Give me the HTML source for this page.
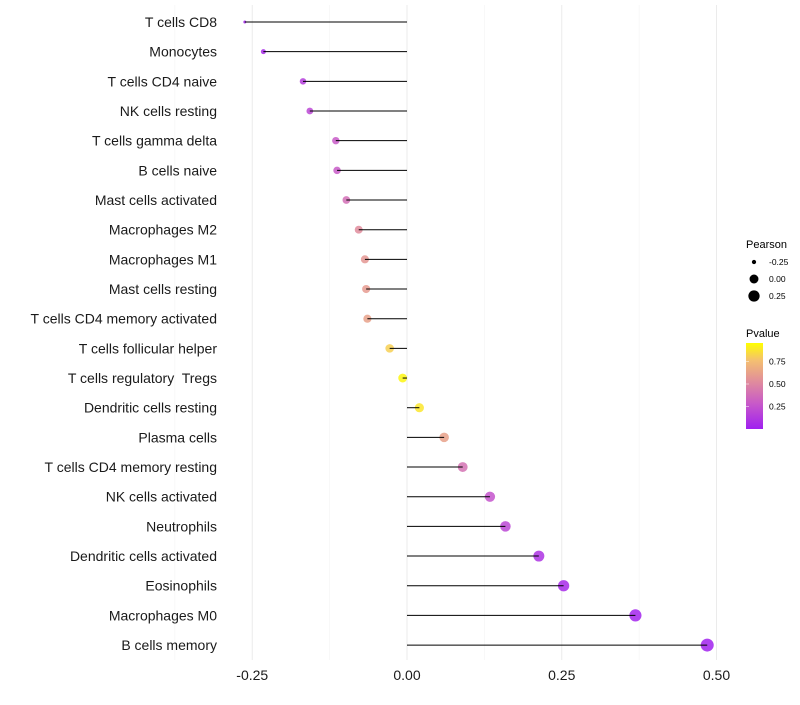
<!DOCTYPE html>
<html><head><meta charset="utf-8"><style>
body{margin:0;background:#fff;font-family:"Liberation Sans",sans-serif}
</style></head><body>
<svg id="chart" width="800" height="700" xmlns="http://www.w3.org/2000/svg" font-family="Liberation Sans, sans-serif">
<g id="grid"></g><g id="dots"></g><g id="marks"></g><g id="ylabels"></g><g id="xlabels"></g>
<g id="legend">
<text x="746" y="248" font-size="11">Pearson</text>
<g id="sizeleg"></g>
<text x="746" y="337" font-size="11">Pvalue</text>
<defs><linearGradient id="pg" x1="0" y1="1" x2="0" y2="0">
<stop offset="0" stop-color="#a020f0"/><stop offset="0.3" stop-color="#c85ac8"/><stop offset="0.55" stop-color="#e08c9c"/><stop offset="0.8" stop-color="#f4c070"/><stop offset="1" stop-color="#ffff00"/></linearGradient></defs>
<rect x="746" y="343" width="17" height="86" fill="url(#pg)"/>
<g id="cbticks"></g>
</g>
</svg>
<script>
const categories=["T cells CD8","Monocytes","T cells CD4 naive","NK cells resting","T cells gamma delta","B cells naive","Mast cells activated","Macrophages M2","Macrophages M1","Mast cells resting","T cells CD4 memory activated","T cells follicular helper","T cells regulatory  Tregs","Dendritic cells resting","Plasma cells","T cells CD4 memory resting","NK cells activated","Neutrophils","Dendritic cells activated","Eosinophils","Macrophages M0","B cells memory"];
const pearson=[-0.262,-0.232,-0.168,-0.157,-0.115,-0.113,-0.098,-0.078,-0.068,-0.066,-0.064,-0.028,-0.007,0.02,0.06,0.09,0.134,0.159,0.213,0.253,0.369,0.485];
const pvalue=[0.02,0.05,0.15,0.2,0.3,0.3,0.4,0.55,0.6,0.62,0.65,0.85,0.97,0.92,0.65,0.42,0.27,0.2,0.1,0.05,0.02,0.01];
const xTicks=[-0.25,0,0.25,0.5];
const xTickLabels=["-0.25","0.00","0.25","0.50"];
const sizeLegend=[-0.25,0,0.25];
const sizeLegendLabels=["-0.25","0.00","0.25"];
const cbTicks=[0.25,0.5,0.75];
const NS="http://www.w3.org/2000/svg";
const x=v=>407+v*619;
const y=i=>22+i*29.67;
const rad=v=>{const t=Math.max(0,(v+0.262)/(0.485+0.262));return 1.5+5*Math.sqrt(t);};
const cbY=p=>429-p*90;
function col(p){const st=[[0,[160,32,240]],[0.3,[200,90,200]],[0.55,[224,140,156]],[0.8,[244,192,112]],[1,[255,255,0]]];
for(let k=1;k<st.length;k++){if(p<=st[k][0]){const a=st[k-1],b=st[k],t=(p-a[0])/(b[0]-a[0]);return `rgb(${a[1].map((c,j)=>Math.round(c+(b[1][j]-c)*t)).join(',')})`;}}return 'rgb(255,255,0)';}
function mk(tag,attrs,parent,txt){const e=document.createElementNS(NS,tag);for(const k in attrs)e.setAttribute(k,attrs[k]);if(txt!==undefined)e.textContent=txt;document.getElementById(parent).appendChild(e);return e;}
[-0.375,-0.125,0.125,0.375].forEach(v=>{const l=mk('line',{x1:x(v),x2:x(v),y1:5,y2:660,stroke:'#f3f3f3','stroke-width':0.6},'grid');

});
xTicks.forEach((v,i)=>{const l=mk('line',{x1:x(v),x2:x(v),y1:5,y2:660,stroke:'#ebebeb','stroke-width':1},'grid');


const t=mk('text',{x:x(v),y:680,'font-size':14,'text-anchor':'middle',fill:'#1a1a1a'},'xlabels',xTickLabels[i]);

});
categories.forEach((c,i)=>{
const t=mk('text',{x:217,y:y(i)+5,'font-size':14,'text-anchor':'end',fill:'#1a1a1a','xml:space':'preserve',style:'white-space:pre'},'ylabels',c);


const l=mk('line',{x1:x(0),x2:x(pearson[i]),y1:y(i),y2:y(i),stroke:'#000','stroke-width':1},'marks');


const d=mk('circle',{cx:x(pearson[i]),cy:y(i),r:rad(pearson[i]),fill:col(pvalue[i]),'fill-opacity':0.85},'dots');

});
sizeLegend.forEach((v,i)=>{const cy=262+i*17;
const d=mk('circle',{cx:754,cy:cy,r:rad(v),fill:'#000'},'sizeleg');


const t=mk('text',{x:769,y:cy+3,'font-size':8.5},'sizeleg',sizeLegendLabels[i]);

});
cbTicks.forEach(p=>{const t=mk('text',{x:769,y:cbY(p)+3,'font-size':8.5},'cbticks',p.toFixed(2));


const l=mk('line',{x1:746,x2:749,y1:cbY(p),y2:cbY(p),stroke:'#fff','stroke-width':0.5},'cbticks');

});
</script>
</body></html>
